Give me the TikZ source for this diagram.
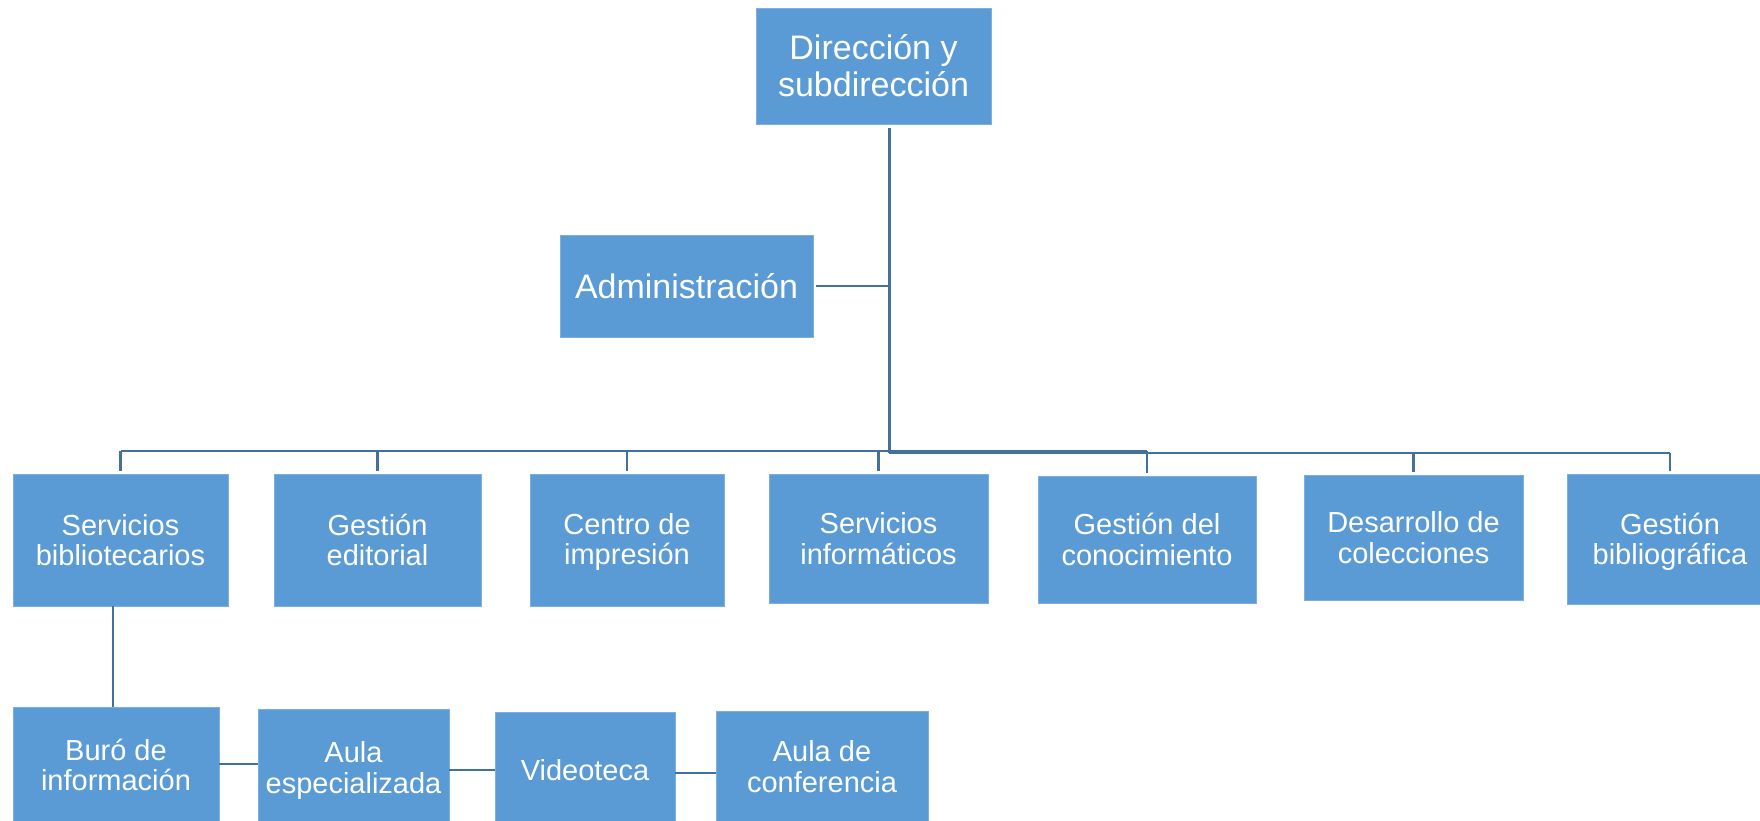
\documentclass[tikz,border=0pt]{standalone}
\usepackage{fontspec}
\setmainfont{Liberation Sans}
\usetikzlibrary{calc}
\definecolor{boxblue}{RGB}{91,155,213}
\definecolor{boxedge}{RGB}{125,175,222}
\definecolor{linkblue}{RGB}{65,113,156}
\tikzset{
  orgbox/.style={fill=boxblue, draw=boxedge, line width=0.8pt, inner sep=0pt,
    align=center, text=white, anchor=center, font=\fontsize{29}{30.5}\selectfont},
  bigbox/.style={orgbox, font=\fontsize{34}{37}\selectfont},
  txtlab/.style={text=white, align=center, inner sep=0pt, font=\fontsize{29}{30.5}\selectfont},
  link/.style={draw=linkblue, line width=2.2pt},
  trunk/.style={draw=linkblue, line width=3pt}
}
\begin{document}
\begin{tikzpicture}[x=1pt,y=-1pt]
\useasboundingbox (0,0) rectangle (1760,820);
\clip (0,0) rectangle (1760,820);
% top level
\node[bigbox, minimum width=235, minimum height=116] (top) at (873.5,66) {Dirección y\\subdirección};
\node[bigbox, minimum width=253, minimum height=102] (adm) at (686.5,286) {Administración};
% second row
\node[orgbox, minimum width=215, minimum height=132] (s1) at (120.5,540) {Servicios\\bibliotecarios};
\node[orgbox, minimum width=207, minimum height=132] (s2) at (377.5,540) {Gestión\\editorial};
\node[orgbox, minimum width=194, minimum height=132,
  label={[txtlab, yshift=-2pt]center:Centro de\\impresión}] (s3) at (627,540) {};
\node[orgbox, minimum width=219, minimum height=129] (s4) at (878.5,538.5) {Servicios\\informáticos};
\node[orgbox, minimum width=218, minimum height=127] (s5) at (1147,539.5) {Gestión del\\conocimiento};
\node[orgbox, minimum width=219, minimum height=125] (s6) at (1413.5,537.5) {Desarrollo de\\colecciones};
\node[orgbox, minimum width=206, minimum height=130,
  label={[txtlab, yshift=-3pt]center:Gestión\\bibliográfica}] (s7) at (1670,539) {};
% third row
\node[orgbox, minimum width=206, minimum height=116] (b1) at (116,765) {Buró de\\información};
\node[orgbox, minimum width=191, minimum height=116,
  label={[txtlab, yshift=-3.5pt]center:Aula\\especializada}] (b2) at (353.5,767) {};
\node[orgbox, minimum width=180, minimum height=116] (b3) at (585,770) {Videoteca};
\node[orgbox, minimum width=212, minimum height=116,
  label={[txtlab, yshift=2.5pt]center:Aula de\\conferencia}] (b4) at (822,769) {};
% connectors
\coordinate (tt) at (889,128);
\coordinate (tk) at (889,453);
\coordinate (busL) at (0,451);
\draw[trunk] (tt) -- (tk);
\draw[link] ([xshift=3pt]adm.east) -- (adm.east -| tk);
\draw[link] (s1.north |- busL) -- (s5.north |- busL);
\draw[link] (tk) -- (tk -| s7.north);
\foreach \n in {s1,s2,s3,s4,s5}{
  \draw[link] (\n.north |- busL) -- ([yshift=3pt]\n.north);
}
\foreach \n in {s6,s7}{
  \draw[link] (\n.north |- tk) -- ([yshift=3pt]\n.north);
}
\draw[link] ([xshift=-3pt]b1.north) -- ([xshift=-3pt]b1.north |- s1.south);
\draw[link] ([yshift=1pt]b1.east) -- ([yshift=1pt]b1.east -| b2.west);
\draw[link] ([yshift=-3pt]b2.east) -- ([yshift=-3pt]b2.east -| b3.west);
\draw[link] ([yshift=-3pt]b3.east) -- ([yshift=-3pt]b3.east -| b4.west);
\end{tikzpicture}
\end{document}
